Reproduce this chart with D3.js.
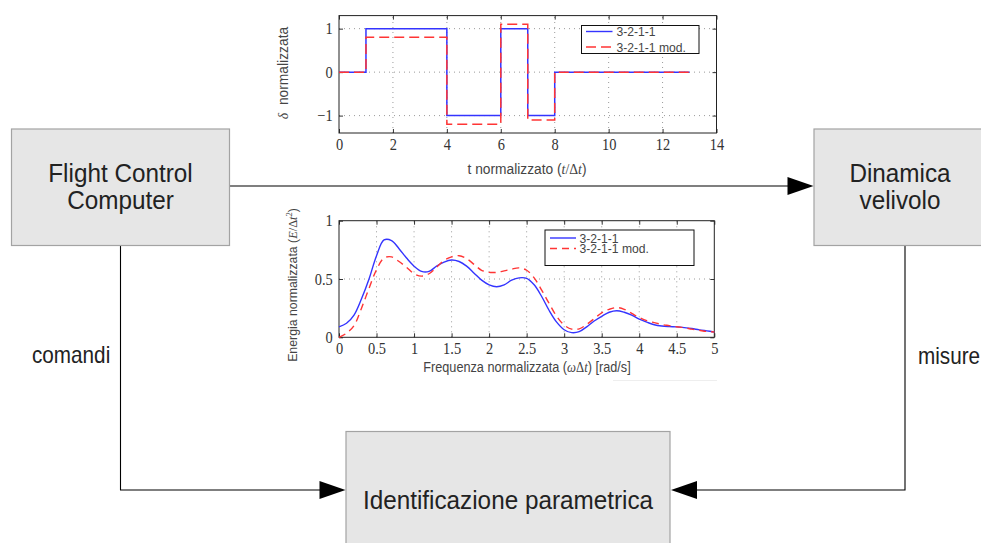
<!DOCTYPE html>
<html>
<head>
<meta charset="utf-8">
<script src="https://cdn.jsdelivr.net/npm/d3@7"></script>
<style>
  html, body { margin: 0; padding: 0; background: #fff; }
  svg { display: block; }
</style>
</head>
<body>
<svg id="fig" width="981" height="543"></svg>
<script>
// ---- input signals: 3-2-1-1 manoeuvre and modified version ----
const tSteps   = [0, 1, 4, 6, 7, 8, 13];
const deltaStd = [0, 1, -1, 1, -1, 0, 0];
const deltaMod = [0, 0.8, -1.2, 1.1, -1.1, 0, 0];
const tTicks   = [0, 2, 4, 6, 8, 10, 12, 14];
const dTicks   = [-1, 0, 1];

// ---- normalised energy spectra ----
const freq = [0.0, 0.1, 0.2, 0.3, 0.4, 0.5, 0.6, 0.7, 0.8, 0.9,
              1.0, 1.1, 1.2, 1.3, 1.4, 1.5, 1.6, 1.7, 1.8, 1.9,
              2.0, 2.1, 2.2, 2.3, 2.4, 2.5, 2.6, 2.7, 2.8, 2.9,
              3.0, 3.1, 3.2, 3.3, 3.4, 3.5, 3.6, 3.7, 3.8, 3.9,
              4.0, 4.1, 4.2, 4.3, 4.4, 4.5, 4.6, 4.7, 4.8, 4.9, 5.0];
const energyStd = [0.09, 0.12, 0.19, 0.33, 0.50, 0.70, 0.835, 0.83, 0.76, 0.68,
                   0.61, 0.565, 0.565, 0.61, 0.645, 0.663, 0.65, 0.61, 0.55, 0.49,
                   0.45, 0.434, 0.45, 0.49, 0.51, 0.505, 0.45, 0.35, 0.23, 0.13,
                   0.065, 0.04, 0.048, 0.09, 0.14, 0.18, 0.215, 0.228, 0.215, 0.19,
                   0.155, 0.13, 0.108, 0.097, 0.092, 0.089, 0.083, 0.075, 0.064, 0.055, 0.046];
const energyMod = [0.0, 0.035, 0.10, 0.25, 0.42, 0.58, 0.68, 0.69, 0.65, 0.60,
                   0.545, 0.525, 0.545, 0.60, 0.66, 0.69, 0.70, 0.675, 0.625, 0.575,
                   0.557, 0.557, 0.57, 0.585, 0.595, 0.575, 0.51, 0.405, 0.29, 0.18,
                   0.105, 0.07, 0.072, 0.11, 0.16, 0.21, 0.24, 0.255, 0.24, 0.205,
                   0.17, 0.143, 0.126, 0.11, 0.10, 0.09, 0.083, 0.07, 0.06, 0.05, 0.046];
const fTicks = [0, 0.5, 1, 1.5, 2, 2.5, 3, 3.5, 4, 4.5, 5];
const eTicks = [0, 0.5, 1];

const seriesNames = ["3-2-1-1", "3-2-1-1 mod."];

// ---- styling ----
const SX = 0.9;                 // horizontal text compression
const SANS = "'Liberation Sans', Arial, sans-serif";
const SERIF = "'Liberation Serif', 'Times New Roman', serif";
const BLUE = "#3434ff";
const RED = "#ff3535";
const BOX_FILL = "#e6e6e6";
const BOX_STROKE = "#a3a3a3";

const svg = d3.select("#fig");

function txt(parent, x, y, str, size, opts = {}) {
  const sx = opts.sx || SX;
  const t = parent.append("text")
    .attr("transform", `translate(${x},${y})` + (opts.rotate ? ` rotate(${opts.rotate})` : "") + ` scale(${opts.rotate ? 1 : sx},1)`)
    .attr("font-family", opts.family || SANS)
    .attr("font-size", size)
    .attr("fill", opts.fill || "#222")
    .attr("text-anchor", opts.anchor || "middle");
  if (str !== null) t.text(str);
  return t;
}

function arrowHead(x, y, dir) {
  // filled triangle whose tip is at (x, y); dir = +1 points right, -1 points left
  const L = 26, H = 9;
  svg.append("path")
    .attr("d", `M${x},${y} L${x - dir * L},${y - H} L${x - dir * L},${y + H} Z`)
    .attr("fill", "#000");
}

// ================= block diagram =================
const blocks = [
  { x: 11.5, y: 129, w: 218, h: 116.5, lines: ["Flight Control", "Computer"], cx: 120.5, base: 182 },
  { x: 814, y: 129, w: 172, h: 116.5, lines: ["Dinamica", "velivolo"], cx: 900, base: 182 },
  { x: 346, y: 431.5, w: 324, h: 140, lines: ["Identificazione parametrica"], cx: 508, base: 509 }
];

// connecting wires
const wire = d3.line();
svg.append("path").attr("d", wire([[229.5, 186], [800, 186]]))
  .attr("stroke", "#000").attr("stroke-width", 1.1).attr("fill", "none");
svg.append("path").attr("d", wire([[120.5, 245.5], [120.5, 490], [330, 490]]))
  .attr("stroke", "#000").attr("stroke-width", 1.1).attr("fill", "none");
svg.append("path").attr("d", wire([[905, 245.5], [905, 490], [690, 490]]))
  .attr("stroke", "#000").attr("stroke-width", 1.1).attr("fill", "none");

blocks.forEach(b => {
  svg.append("rect")
    .attr("x", b.x).attr("y", b.y).attr("width", b.w).attr("height", b.h)
    .attr("fill", BOX_FILL).attr("stroke", BOX_STROKE).attr("stroke-width", 1.2);
  b.lines.forEach((s, i) => txt(svg, b.cx, b.base + i * 26.5, s, 25.5, { fill: "#222", sx: 0.953 }));
});

arrowHead(813.5, 186, 1);
arrowHead(345.5, 490, 1);
arrowHead(671, 490, -1);

txt(svg, 32, 363, "comandi", 23, { anchor: "start" });
txt(svg, 918, 364, "misure", 23, { anchor: "start" });

// ================= shared chart helpers =================
function frame(g, x, y, xTicks, yTicks, fmt, padX, padY) {
  const [x0, x1] = x.range();
  const [y0, y1] = y.range();
  // dotted grid
  const grid = g.append("g").attr("stroke", "#9a9a9a").attr("stroke-width", 1)
    .attr("stroke-dasharray", "1,4");
  xTicks.filter(v => x(v) > x0 + 1 && x(v) < x1 - 1).forEach(v =>
    grid.append("line").attr("x1", x(v)).attr("x2", x(v)).attr("y1", y0).attr("y2", y1));
  yTicks.filter(v => y(v) < y0 - 1 && y(v) > y1 + 1).forEach(v =>
    grid.append("line").attr("x1", x0).attr("x2", x1).attr("y1", y(v)).attr("y2", y(v)));

  const style = sel => {
    sel.select(".domain").remove();
    sel.selectAll(".tick line").attr("stroke", "#333");
    sel.selectAll("text")
      .attr("font-family", SERIF).attr("font-size", 16).attr("fill", "#333")
      .attr("transform", `scale(${SX},1)`);
  };
  g.append("g").attr("transform", `translate(0,${y0})`)
    .call(d3.axisBottom(x).tickValues(xTicks).tickFormat(fmt).tickSizeInner(-4).tickSizeOuter(0).tickPadding(padX))
    .call(style);
  g.append("g").attr("transform", `translate(0,${y1})`)
    .call(d3.axisTop(x).tickValues(xTicks).tickFormat("").tickSizeInner(-4).tickSizeOuter(0))
    .call(style);
  g.append("g").attr("transform", `translate(${x0},0)`)
    .call(d3.axisLeft(y).tickValues(yTicks).tickFormat(fmt).tickSizeInner(-4).tickSizeOuter(0).tickPadding(padY))
    .call(style);
  g.append("g").attr("transform", `translate(${x1},0)`)
    .call(d3.axisRight(y).tickValues(yTicks).tickFormat("").tickSizeInner(-4).tickSizeOuter(0))
    .call(style);

  g.append("rect").attr("x", x0).attr("y", y1).attr("width", x1 - x0).attr("height", y0 - y1)
    .attr("fill", "none").attr("stroke", "#222").attr("stroke-width", 1);
}

const numFmt = d => String(d).replace("-", "\u2212");

function legend(g, bx, by, bw, bh, rows, sx0, sx1, tx, dash) {
  g.append("rect").attr("x", bx).attr("y", by).attr("width", bw).attr("height", bh)
    .attr("fill", "#fff").attr("stroke", "#111").attr("stroke-width", 1);
  seriesNames.forEach((name, i) => {
    g.append("line").attr("x1", sx0).attr("x2", sx1).attr("y1", rows[i]).attr("y2", rows[i])
      .attr("stroke", i === 0 ? BLUE : RED).attr("stroke-width", 1.4)
      .attr("stroke-dasharray", i === 0 ? null : dash);
    txt(g, tx, rows[i] + 4.5, name, 13.5, { anchor: "start", fill: "#444" });
  });
}

// ================= time history chart =================
{
  const g = svg.append("g");
  const x = d3.scaleLinear().domain([0, 14]).range([339, 716.5]);
  const y = d3.scaleLinear().domain([-1.4, 1.3]).range([133, 15.6]);
  g.append("rect").attr("x", 272).attr("y", 6).attr("width", 455).attr("height", 176).attr("fill", "#fff");
  frame(g, x, y, tTicks, dTicks, numFmt, 6, 7);

  const step = d3.line().x(d => x(d[0])).y(d => y(d[1])).curve(d3.curveStepAfter);
  g.append("path").attr("d", step(tSteps.map((t, i) => [t, deltaStd[i]])))
    .attr("fill", "none").attr("stroke", BLUE).attr("stroke-width", 1.5);
  g.append("path").attr("d", step(tSteps.map((t, i) => [t, deltaMod[i]])))
    .attr("fill", "none").attr("stroke", RED).attr("stroke-width", 1.5)
    .attr("stroke-dasharray", "10,5");

  legend(g, 581.5, 25.5, 117.5, 28, [31.5, 47], 586, 612.5, 616.5, "10,5");

  const xt = txt(g, 527, 174, null, 15.3, { fill: "#444" });
  xt.append("tspan").text("t normalizzato (");
  xt.append("tspan").attr("font-family", SERIF).attr("font-style", "italic").text("t");
  xt.append("tspan").attr("font-family", SERIF).text("/\u0394");
  xt.append("tspan").attr("font-family", SERIF).attr("font-style", "italic").text("t");
  xt.append("tspan").text(")");

  const yt = txt(g, 288, 73, null, 13.8, { rotate: -90, fill: "#444" });
  yt.append("tspan").attr("font-family", SERIF).attr("font-style", "italic").text("\u03b4");
  yt.append("tspan").text("\u00a0\u00a0normalizzata");
}

// ================= energy spectrum chart =================
{
  const g = svg.append("g");
  const x = d3.scaleLinear().domain([0, 5]).range([339, 714.3]);
  const y = d3.scaleLinear().domain([0, 1]).range([337.3, 220.7]);
  g.append("rect").attr("x", 280).attr("y", 204).attr("width", 440).attr("height", 176).attr("fill", "#fff");
  frame(g, x, y, fTicks, eTicks, numFmt, 5.5, 7);

  const curve = d3.line().x((d, i) => x(freq[i])).y(d => y(d)).curve(d3.curveCatmullRom.alpha(0.5));
  g.append("path").attr("d", curve(energyStd))
    .attr("fill", "none").attr("stroke", BLUE).attr("stroke-width", 1.4);
  g.append("path").attr("d", curve(energyMod))
    .attr("fill", "none").attr("stroke", RED).attr("stroke-width", 1.4)
    .attr("stroke-dasharray", "7,5");

  legend(g, 545, 230, 149, 35.5, [238, 248.5], 550, 576, 579.5, "7,5");

  const xt = txt(g, 527, 372, null, 14.1, { fill: "#444" });
  xt.append("tspan").text("Frequenza normalizzata (");
  xt.append("tspan").attr("font-family", SERIF).attr("font-style", "italic").text("\u03c9");
  xt.append("tspan").attr("font-family", SERIF).text("\u0394");
  xt.append("tspan").attr("font-family", SERIF).attr("font-style", "italic").text("t");
  xt.append("tspan").text(") [rad/s]");

  const yt = txt(g, 297, 285, null, 12.3, { rotate: -90, fill: "#444" });
  yt.append("tspan").text("Energia normalizzata (");
  yt.append("tspan").attr("font-family", SERIF).attr("font-style", "italic").text("E");
  yt.append("tspan").attr("font-family", SERIF).text("/\u0394");
  yt.append("tspan").attr("font-family", SERIF).attr("font-style", "italic").text("t");
  yt.append("tspan").attr("font-family", SERIF).attr("font-size", 8.5).attr("dy", -5).text("2");
  yt.append("tspan").attr("dy", 5).text(")");

  // faint edge left on the lower right of the spectrum panel
  g.append("line").attr("x1", 613).attr("x2", 717).attr("y1", 380.5).attr("y2", 380.5)
    .attr("stroke", "#eeeeee").attr("stroke-width", 1);
}
</script>
</body>
</html>
